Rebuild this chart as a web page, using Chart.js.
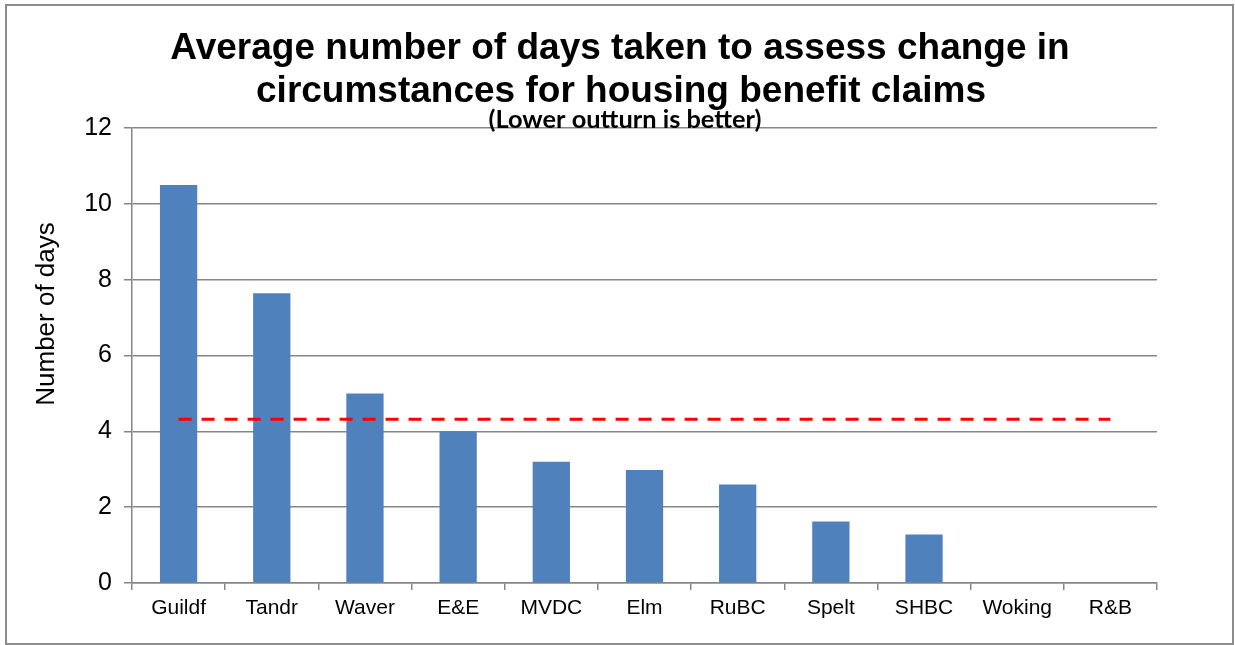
<!DOCTYPE html>
<html>
<head>
<meta charset="utf-8">
<script src="https://cdn.jsdelivr.net/npm/chart.js@4.4.1/dist/chart.umd.min.js"></script>
<style>
  html, body { margin: 0; padding: 0; background: #ffffff; }
  #wrap { width: 1235px; height: 645px; position: relative; }
</style>
</head>
<body>
<div id="wrap"><canvas id="c" width="1235" height="645"></canvas></div>
<script>
const titleLines = ["Average number of days taken to assess change in", "circumstances for housing benefit claims"];
const subtitleText = "(Lower outturn is better)";
const yAxisTitle = "Number of days";
const categories = ["Guildf", "Tandr", "Waver", "E&E", "MVDC", "Elm", "RuBC", "Spelt", "SHBC", "Woking", "R&B"];
const daysValues = [10.5, 7.64, 5.0, 4.0, 3.2, 2.98, 2.6, 1.62, 1.28, 0, 0];
const averageValues = [4.32, 4.32, 4.32, 4.32, 4.32, 4.32, 4.32, 4.32, 4.32, 4.32, 4.32];
const yTicks = [0, 2, 4, 6, 8, 10, 12];

const decorPlugin = {
  id: 'decor',
  beforeDraw(chart) {
    const ctx = chart.ctx;
    ctx.save();
    ctx.fillStyle = '#ffffff';
    ctx.fillRect(0, 0, chart.width, chart.height);
    ctx.restore();
  },
  afterDraw(chart) {
    const ctx = chart.ctx;
    ctx.save();
    // outer border
    ctx.strokeStyle = '#8c8c8c';
    ctx.lineWidth = 2;
    ctx.strokeRect(6, 5, 1227, 639);
    // title
    ctx.fillStyle = '#000000';
    ctx.textAlign = 'center';
    ctx.textBaseline = 'alphabetic';
    ctx.font = 'bold 37px "Liberation Sans", Arial, sans-serif';
    ctx.fillText(titleLines[0], 620, 59);
    ctx.fillText(titleLines[1], 621, 102);
    // subtitle fitted to width
    let f = 20;
    ctx.font = 'bold ' + f + 'px Lato, "Open Sans", sans-serif';
    const w = ctx.measureText(subtitleText).width;
    f = f * 273 / w;
    ctx.font = 'bold ' + f.toFixed(2) + 'px Lato, "Open Sans", sans-serif';
    ctx.fillText(subtitleText, 625, 128);
    // y axis title
    ctx.translate(54, 314);
    ctx.rotate(-Math.PI / 2);
    ctx.font = '26px "Liberation Sans", Arial, sans-serif';
    ctx.textAlign = 'center';
    ctx.textBaseline = 'alphabetic';
    ctx.fillText(yAxisTitle, 0, 0);
    ctx.restore();
  }
};

new Chart(document.getElementById('c'), {
  data: {
    labels: categories,
    datasets: [
      {
        type: 'line',
        label: 'Average',
        data: averageValues,
        borderColor: '#ff0000',
        borderWidth: 3,
        borderDash: [13, 10],
        pointRadius: 0,
        fill: false,
        order: 0
      },
      {
        type: 'bar',
        label: 'Days',
        data: daysValues,
        backgroundColor: '#4f81bd',
        borderWidth: 0,
        barPercentage: 0.4,
        categoryPercentage: 1.0,
        order: 1
      }
    ]
  },
  options: {
    responsive: false,
    animation: false,
    devicePixelRatio: 1,
    layout: { padding: { left: 10, right: 78, top: 128, bottom: 0 } },
    plugins: {
      legend: { display: false },
      tooltip: { enabled: false },
      title: { display: false }
    },
    scales: {
      x: {
        type: 'category',
        offset: true,
        grid: {
          offset: true,
          drawOnChartArea: false,
          drawTicks: true,
          tickLength: 7,
          color: '#868686',
          lineWidth: 1.5
        },
        border: { display: true, color: '#868686', width: 1.5 },
        ticks: {
          color: '#000000',
          font: { family: '"Liberation Sans", Arial, sans-serif', size: 21 },
          padding: 6,
          maxRotation: 0,
          autoSkip: false
        },
        afterFit(scale) { scale.height = 62; }
      },
      y: {
        min: 0,
        max: 12,
        afterBuildTicks(scale) { scale.ticks = yTicks.map(v => ({ value: v })); },
        grid: {
          color: '#868686',
          lineWidth: 1.5,
          drawTicks: true,
          tickLength: 8
        },
        border: { display: true, color: '#868686', width: 1.5 },
        ticks: {
          color: '#000000',
          font: { family: '"Liberation Sans", Arial, sans-serif', size: 25 },
          padding: 12
        },
        afterFit(scale) { scale.width = 122; }
      }
    }
  },
  plugins: [decorPlugin]
});
</script>
</body>
</html>
